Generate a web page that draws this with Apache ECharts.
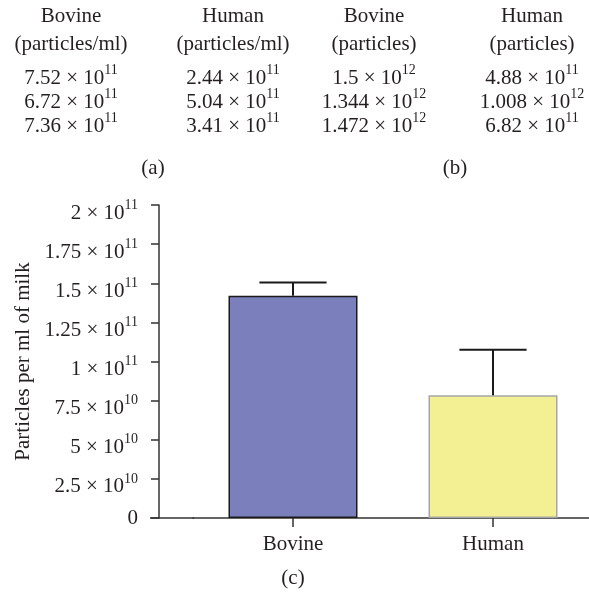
<!DOCTYPE html>
<html>
<head>
<meta charset="utf-8">
<style>
  html, body { margin: 0; padding: 0; background: #fff; }
  .chart { width: 589px; height: 597px; }
</style>
<script src="https://cdn.jsdelivr.net/npm/echarts@6/dist/echarts.min.js"></script>
</head>
<body>
<div class="chart"></div>
<script>
// bar chart (c)
const categories = ['Bovine', 'Human'];
const meanValues = [1.42e11, 0.785e11];
const errorTops = [1.505e11, 1.075e11];
const yMax = 2e11;
const yStep = 0.25e11;

// tables (a) and (b): [mantissa, exponent]
const tableAHeads = [['Bovine', '(particles/ml)'], ['Human', '(particles/ml)']];
const tableABovine = [['7.52', '11'], ['6.72', '11'], ['7.36', '11']];
const tableAHuman = [['2.44', '11'], ['5.04', '11'], ['3.41', '11']];
const tableBHeads = [['Bovine', '(particles)'], ['Human', '(particles)']];
const tableBBovine = [['1.5', '12'], ['1.344', '12'], ['1.472', '12']];
const tableBHuman = [['4.88', '11'], ['1.008', '12'], ['6.82', '11']];
const panelLabels = ['(a)', '(b)', '(c)'];

(function () {
  let myChart = echarts.init(document.querySelector('.chart'));
  const FONT = '"Liberation Serif", "DejaVu Serif", serif';
  const INK = '#231f20';

  // m = mantissa (sits a bit low), s = exponent (raised), t = plain text
  const rich = {
    m: { fontFamily: FONT, fontSize: 21, color: INK, lineHeight: 22, padding: [16, 0, 0, 0] },
    s: { fontFamily: FONT, fontSize: 14, color: INK, lineHeight: 14, padding: [12, 0, 12, 0] },
    t: { fontFamily: FONT, fontSize: 21, color: INK, lineHeight: 24 }
  };

  function sci(v) {
    if (v === 0) return '{t|0}';
    let e = Math.floor(Math.log10(v) + 1e-9);
    let m = parseFloat((v / Math.pow(10, e)).toFixed(3));
    return '{m|' + m + ' × 10}{s|' + e + '}';
  }

  // text blocks for the two tables
  let texts = [];
  function addText(x, y, text) {
    texts.push({
      type: 'text', x: x, y: y, silent: true,
      style: { text: text, rich: rich, align: 'center', verticalAlign: 'middle',
               font: '21px ' + FONT, fill: INK }
    });
  }
  function addColumn(x, head, rows) {
    addText(x, 16, '{t|' + head[0] + '}');
    addText(x, 44, '{t|' + head[1] + '}');
    rows.forEach(function (r, i) {
      addText(x, 70 + i * 24, '{m|' + r[0] + ' × 10}{s|' + r[1] + '}');
    });
  }
  addColumn(71, tableAHeads[0], tableABovine);
  addColumn(233, tableAHeads[1], tableAHuman);
  addColumn(374, tableBHeads[0], tableBBovine);
  addColumn(532, tableBHeads[1], tableBHuman);
  addText(153, 168, '{t|' + panelLabels[0] + '}');
  addText(455, 168, '{t|' + panelLabels[1] + '}');
  addText(293, 578, '{t|' + panelLabels[2] + '}');

  // little bit of x axis line to the left of the y axis
  texts.push({
    type: 'line', silent: true,
    shape: { x1: 150, y1: 518, x2: 194, y2: 518 },
    style: { stroke: '#333', lineWidth: 1.5 }
  });

  let option = {
    animation: false,
    grid: { left: 193, width: 400, top: 205, bottom: 79, containLabel: false, outerBoundsMode: 'none' },
    xAxis: {
      type: 'category',
      data: categories,
      axisLine: { lineStyle: { color: '#333', width: 1.5 } },
      axisTick: { show: true, alignWithLabel: true, length: 9, lineStyle: { color: '#333', width: 1.5 } },
      axisLabel: { fontFamily: FONT, fontSize: 21, color: INK, margin: 16 }
    },
    yAxis: {
      type: 'value',
      min: 0,
      max: yMax,
      interval: yStep,
      offset: 34,
      name: 'Particles per ml of milk',
      nameLocation: 'middle',
      nameGap: 120,
      nameTextStyle: { fontFamily: FONT, fontSize: 21, color: INK },
      splitLine: { show: false },
      axisLine: { show: true, lineStyle: { color: '#333', width: 1.5 } },
      axisTick: { show: true, length: 8, lineStyle: { color: '#333', width: 1.5 } },
      axisLabel: { margin: 21, formatter: sci, rich: rich }
    },
    series: [
      {
        type: 'bar',
        barWidth: 129,
        data: meanValues.map(function (v, i) {
          return {
            value: v,
            itemStyle: i === 0
              ? { color: '#7b7fbc', borderColor: '#1a1a1a', borderWidth: 1.5 }
              : { color: '#f3f093', borderColor: '#a6a6a6', borderWidth: 1.5 }
          };
        }),
        z: 2
      },
      {
        type: 'custom',
        data: meanValues.map(function (v, i) { return [i, v, errorTops[i]]; }),
        renderItem: function (params, api) {
          let base = api.coord([api.value(0), api.value(1)]);
          let top = api.coord([api.value(0), api.value(2)]);
          let half = api.size([1, 0])[0] * 0.168;
          let style = { stroke: '#1a1a1a', lineWidth: 2 };
          return {
            type: 'group',
            children: [
              { type: 'line', shape: { x1: top[0], y1: base[1], x2: top[0], y2: top[1] }, style: style },
              { type: 'line', shape: { x1: top[0] - half, y1: top[1], x2: top[0] + half, y2: top[1] }, style: style }
            ]
          };
        },
        z: 3
      }
    ],
    graphic: texts
  };

  myChart.setOption(option);
})();
</script>
</body>
</html>
